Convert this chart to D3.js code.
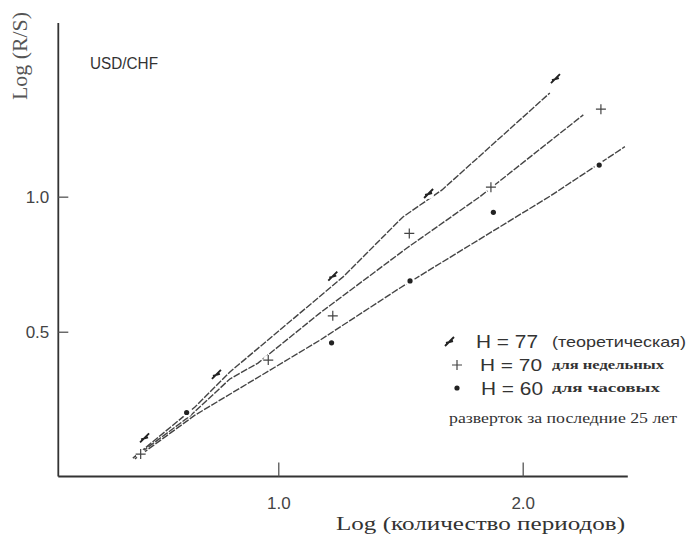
<!DOCTYPE html>
<html><head><meta charset="utf-8">
<script src="https://cdn.jsdelivr.net/npm/d3@7"></script>
<style>html,body{margin:0;padding:0;background:#fff;}svg{display:block;}</style>
</head><body>
<svg id="c" width="690" height="536"></svg>
<script>
// ---- data (log units) ----
const xTicks = [1.0, 2.0];
const yTicks = [0.5, 1.0];
const xTickLabels = ["1.0", "2.0"];
const yTickLabels = ["0.5", "1.0"];
const seriesNames = ["H = 77", "H = 70", "H = 60"];
const seriesNotes = ["(теоретическая)", "для недельных", "для часовых"];
const legendFoot = "разверток за последние 25 лет";
const pairLabel = "USD/CHF";
const xTitle = "Log (количество периодов)";
const yTitle = "Log (R/S)";

// markers (x = log periods, y = log R/S)
const pts77 = [[0.455,0.105],[0.749,0.340],[1.225,0.704],[1.617,1.010],[2.136,1.435]];
const pts70 = [[0.437,0.047],[0.959,0.395],[1.223,0.559],[1.536,0.864],[1.870,1.035],[2.320,1.324]];
const pts60 = [[0.625,0.201],[1.218,0.459],[1.539,0.688],[1.880,0.942],[2.313,1.117]];
// fitted lines
const line77 = [[0.405,0.032],[0.659,0.221],[0.802,0.351],[1.265,0.703],[1.510,0.925],[1.670,1.025],[2.111,1.384]];
const line70 = [[0.413,0.036],[0.639,0.188],[0.802,0.325],[0.917,0.384],[1.170,0.569],[1.525,0.809],[1.825,1.000],[2.248,1.303]];
const line60 = [[0.413,0.029],[0.659,0.191],[1.171,0.469],[1.498,0.662],[2.112,1.002],[2.418,1.185]];

// ---- drawing ----
const svg = d3.select("#c");
const x = d3.scaleLinear().domain([0.1, 2.43]).range([58.3, 627.8]);
const y = d3.scaleLinear().domain([-0.036, 1.643]).range([476.5, 23]);
const ink = "#333";

// axes
const xAxis = d3.axisBottom(x).tickValues(xTicks).tickSize(-14).tickFormat((d,i)=>xTickLabels[i]);
const gx = svg.append("g").attr("transform", `translate(0,${y.range()[0]})`).call(xAxis);
gx.select(".domain").attr("stroke", ink).attr("stroke-width", 1.8).attr("d", `M${x.range()[0]},0H${x.range()[1]}`);
gx.selectAll(".tick line").attr("stroke", "#555").attr("stroke-width", 1.3);
gx.selectAll(".tick text").attr("fill", "#444").attr("font-family", "Liberation Sans, Arial, sans-serif")
  .attr("font-size", 17).attr("y", 20).attr("dy", "0.71em");

const yAxis = d3.axisLeft(y).tickValues(yTicks).tickSize(-10).tickFormat((d,i)=>yTickLabels[i]);
const gy = svg.append("g").attr("transform", `translate(${x.range()[0]},0)`).call(yAxis);
gy.select(".domain").attr("stroke", ink).attr("stroke-width", 1.8).attr("d", `M0,${y.range()[1]}V${y.range()[0]}`);
gy.selectAll(".tick line").attr("stroke", "#555").attr("stroke-width", 1.3);
gy.selectAll(".tick text").attr("fill", "#444").attr("font-family", "Liberation Sans, Arial, sans-serif")
  .attr("font-size", 17).attr("x", -9);

// titles
svg.append("text").attr("transform", "translate(27,56) rotate(-90)").attr("text-anchor", "middle")
  .attr("font-family", "Liberation Serif, Times New Roman, serif").attr("font-size", 20)
  .attr("fill", "#555").attr("textLength", 88).attr("lengthAdjust", "spacingAndGlyphs").text(yTitle);
svg.append("text").attr("x", 336).attr("y", 530)
  .attr("font-family", "Liberation Serif, Times New Roman, serif").attr("font-size", 19)
  .attr("fill", "#333").attr("textLength", 289).attr("lengthAdjust", "spacingAndGlyphs").text(xTitle);
svg.append("text").attr("x", 90).attr("y", 69)
  .attr("font-family", "Liberation Sans, Arial, sans-serif").attr("font-size", 16)
  .attr("fill", "#333").attr("textLength", 68).attr("lengthAdjust", "spacingAndGlyphs").text(pairLabel);

// lines
const lineGen = d3.line().x(d=>x(d[0])).y(d=>y(d[1]));
[line77, line70, line60].forEach(L => {
  svg.append("path").attr("d", lineGen(L)).attr("fill", "none")
    .attr("stroke", "#444").attr("stroke-width", 1.4).attr("stroke-dasharray", "7,1.5");
});

// knockouts around markers
[pts77, pts70, pts60].forEach(P => {
  svg.append("g").selectAll("circle").data(P).join("circle")
    .attr("cx", d=>x(d[0])).attr("cy", d=>y(d[1])).attr("r", 5).attr("fill", "#fff");
});

// marker drawers
function mark(g, type) {
  if (type === 0) {
    g.append("path").attr("d", "M-5,4L4,-5M-4,1L3,-1").attr("stroke", "#222").attr("stroke-width", 1.9).attr("fill", "none");
  } else if (type === 1) {
    g.append("path").attr("d", "M-5,0H5M0,-5V5").attr("stroke", "#444").attr("stroke-width", 1.2).attr("fill", "none");
  } else {
    g.append("circle").attr("r", 2.6).attr("fill", "#222");
  }
}
[pts77, pts70, pts60].forEach((P, t) => {
  svg.append("g").selectAll("g").data(P).join("g")
    .attr("transform", d=>`translate(${x(d[0])},${y(d[1])})`)
    .each(function(){ mark(d3.select(this), t); });
});

// legend
const lg = svg.append("g");
const rowsY = [342, 365, 388];
const nameX = [476, 480, 481];
const nameSize = [18, 17, 19];
const noteLen = [134, 112, 108];
const markX = [450, 457, 457];
rowsY.forEach((ry, i) => {
  mark(lg.append("g").attr("transform", `translate(${markX[i]},${ry})`), i);
  lg.append("text").attr("x", nameX[i]).attr("y", ry).attr("dy", "0.36em")
    .attr("font-family", "Liberation Sans, Arial, sans-serif").attr("font-size", nameSize[i])
    .attr("fill", "#333").attr("textLength", 62).attr("lengthAdjust", "spacingAndGlyphs").text(seriesNames[i]);
  lg.append("text").attr("x", 552).attr("y", ry).attr("dy", "0.36em")
    .attr("font-family", i === 0 ? "Liberation Sans, Arial, sans-serif" : "Liberation Serif, Times New Roman, serif")
    .attr("font-size", i === 0 ? 15 : 12).attr("font-weight", i === 0 ? "normal" : "bold")
    .attr("fill", "#333").attr("textLength", noteLen[i]).attr("lengthAdjust", "spacingAndGlyphs").text(seriesNotes[i]);
});
lg.append("text").attr("x", 449).attr("y", 418).attr("dy", "0.36em")
  .attr("font-family", "Liberation Serif, Times New Roman, serif").attr("font-size", 14)
  .attr("fill", "#333").attr("textLength", 228).attr("lengthAdjust", "spacingAndGlyphs").text(legendFoot);
</script>
</body></html>
